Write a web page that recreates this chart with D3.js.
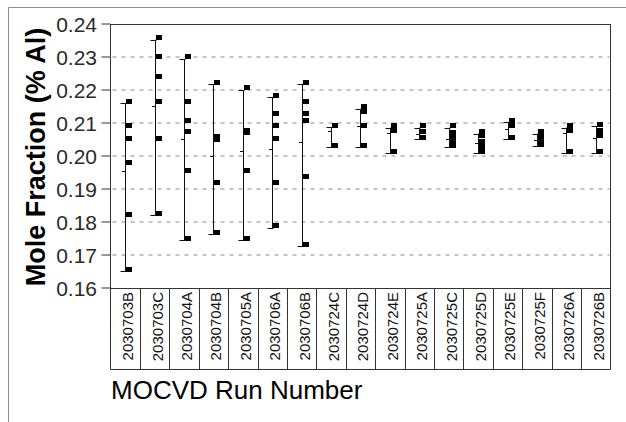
<!DOCTYPE html>
<html>
<head>
<meta charset="utf-8">
<script src="https://cdn.jsdelivr.net/npm/d3@7"></script>
<style>
  body { margin: 0; background: #fff; }
  text { font-family: "Liberation Sans", Arial, sans-serif; }
</style>
</head>
<body>
<div id="chart"></div>
<script>
// run labels on the x axis
const runs = [
  "2030703B", "2030703C", "2030704A", "2030704B", "2030705A", "2030706A",
  "2030706B", "2030724C", "2030724D", "2030724E", "2030725A", "2030725C",
  "2030725D", "2030725E", "2030725F", "2030726A", "2030726B"
];

// measured mole fractions for each run
const samples = [
  [0.2160, 0.2085, 0.2048, 0.1973, 0.1817, 0.1651],
  [0.2352, 0.2294, 0.2235, 0.2160, 0.2048, 0.1821],
  [0.2294, 0.2160, 0.2102, 0.2067, 0.1951, 0.1745],
  [0.2218, 0.2052, 0.2045, 0.1915, 0.1763],
  [0.2200, 0.2072, 0.2066, 0.1951, 0.1745],
  [0.2178, 0.2124, 0.2085, 0.2048, 0.1915, 0.1782],
  [0.2218, 0.2160, 0.2124, 0.2102, 0.1932, 0.1727],
  [0.2087, 0.2026],
  [0.2143, 0.2128, 0.2087, 0.2027],
  [0.2086, 0.2071, 0.2009],
  [0.2086, 0.2068, 0.2051],
  [0.2086, 0.2065, 0.2051, 0.2035, 0.2026],
  [0.2068, 0.2055, 0.2037, 0.2022, 0.2009],
  [0.2103, 0.2086, 0.2051],
  [0.2068, 0.2053, 0.2037, 0.2030],
  [0.2086, 0.2071, 0.2009],
  [0.2090, 0.2071, 0.2055, 0.2009]
];

// mean tick per run
const means = [
  0.1956, 0.2152, 0.2053, 0.2001, 0.2016, 0.2021, 0.2043, 0.2076, 0.2090,
  0.2069, 0.2068, 0.2053, 0.2038, 0.2081, 0.2050, 0.2069, 0.2055
];

const yTicks = [0.16, 0.17, 0.18, 0.19, 0.20, 0.21, 0.22, 0.23, 0.24];

const W = 626, H = 422;
const plot = { left: 110.5, right: 610.5, top: 24, bottom: 288 };
const tableBottom = 369;

const svg = d3.select("#chart").append("svg")
  .attr("width", W)
  .attr("height", H);

// outer frame (top and left edges only)
svg.append("path")
  .attr("d", "M8.5,422V7.5H626")
  .attr("fill", "none")
  .attr("stroke", "#8c8c8c");

const x = d3.scaleBand().domain(runs).range([plot.left, plot.right]);
const y = d3.scaleLinear().domain([0.16, 0.24]).range([plot.bottom, plot.top]);

// dashed grid
svg.append("g")
  .selectAll("line")
  .data(yTicks.slice(1, -1))
  .enter()
  .append("line")
  .attr("x1", plot.left + 2)
  .attr("x2", plot.right - 1)
  .attr("y1", (d) => y(d))
  .attr("y2", (d) => y(d))
  .attr("stroke", "#8a8a8a")
  .attr("stroke-dasharray", "4,5");

// y axis ticks and labels
const yAxis = svg.append("g");
yAxis.selectAll("line")
  .data(yTicks)
  .enter()
  .append("line")
  .attr("x1", plot.left - 9)
  .attr("x2", plot.left)
  .attr("y1", (d) => y(d))
  .attr("y2", (d) => y(d))
  .attr("stroke", "#333");

yAxis.selectAll("text")
  .data(yTicks)
  .enter()
  .append("text")
  .attr("x", 97)
  .attr("y", (d) => y(d))
  .attr("dy", "0.36em")
  .attr("text-anchor", "end")
  .attr("font-size", 21)
  .attr("fill", "#2a2a2a")
  .text((d) => d3.format(".2f")(d));

// plot border
svg.append("rect")
  .attr("x", plot.left)
  .attr("y", plot.top + 0.5)
  .attr("width", plot.right - plot.left)
  .attr("height", plot.bottom - plot.top)
  .attr("fill", "none")
  .attr("stroke", "#333");

// label table under the plot
svg.append("path")
  .attr("d", `M${plot.left},${plot.bottom}V${tableBottom + 0.5}H${plot.right}V${plot.bottom}`)
  .attr("fill", "none")
  .attr("stroke", "#333");

svg.append("g")
  .selectAll("line")
  .data(runs.slice(1))
  .enter()
  .append("line")
  .attr("x1", (d) => Math.round(x(d)) + 0.5)
  .attr("x2", (d) => Math.round(x(d)) + 0.5)
  .attr("y1", plot.bottom)
  .attr("y2", tableBottom)
  .attr("stroke", "#333");

svg.append("g")
  .selectAll("text")
  .data(runs)
  .enter()
  .append("text")
  .attr("transform", (d) =>
    `translate(${x(d) + x.bandwidth() / 2 + 2.5},${plot.bottom + 4})rotate(-90)`)
  .attr("text-anchor", "end")
  .attr("dy", "0.36em")
  .attr("font-size", 15)
  .attr("fill", "#111")
  .text((d) => d);

// range bars, mean ticks and sample markers
const groups = svg.append("g")
  .selectAll("g")
  .data(runs)
  .enter()
  .append("g")
  .attr("transform", (d) => `translate(${Math.round(x(d) + x.bandwidth() / 2) + 0.5},0)`);

groups.append("line")
  .attr("x1", 0).attr("x2", 0)
  .attr("y1", (d, i) => y(d3.max(samples[i])))
  .attr("y2", (d, i) => y(d3.min(samples[i])))
  .attr("stroke", "#111");

groups.append("line")
  .attr("x1", -5).attr("x2", 1)
  .attr("y1", (d, i) => Math.round(y(d3.max(samples[i]))) + 0.5)
  .attr("y2", (d, i) => Math.round(y(d3.max(samples[i]))) + 0.5)
  .attr("stroke", "#111");

groups.append("line")
  .attr("x1", -5).attr("x2", 1)
  .attr("y1", (d, i) => Math.round(y(d3.min(samples[i]))) + 0.5)
  .attr("y2", (d, i) => Math.round(y(d3.min(samples[i]))) + 0.5)
  .attr("stroke", "#111");

groups.append("line")
  .attr("x1", -3.5).attr("x2", 0)
  .attr("y1", (d, i) => Math.round(y(means[i])) + 0.5)
  .attr("y2", (d, i) => Math.round(y(means[i])) + 0.5)
  .attr("stroke", "#111");

groups.selectAll("rect")
  .data((d, i) => samples[i])
  .enter()
  .append("rect")
  .attr("x", 0.5)
  .attr("y", (d) => Math.round(y(d) - 4.5))
  .attr("width", 6)
  .attr("height", 5)
  .attr("fill", "#000");

// axis titles
svg.append("text")
  .attr("transform", `translate(45,${(plot.top + plot.bottom) / 2 + 1})rotate(-90)`)
  .attr("text-anchor", "middle")
  .attr("font-size", 27)
  .attr("font-weight", "bold")
  .attr("fill", "#000")
  .text("Mole Fraction (% Al)");

svg.append("text")
  .attr("x", 111)
  .attr("y", 399)
  .attr("font-size", 26)
  .attr("fill", "#000")
  .text("MOCVD Run Number");
</script>
</body>
</html>
